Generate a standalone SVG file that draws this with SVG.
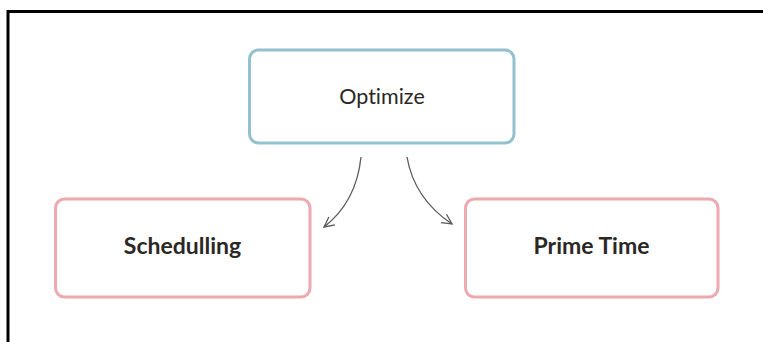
<svg xmlns="http://www.w3.org/2000/svg" width="763" height="342" viewBox="0 0 763 342">
<style>
.box{fill:#ffffff;stroke-width:3}
.blue{stroke:#94c1cd}
.pink{stroke:#ecaab0}
.lbl{font-family:Lato,"Open Sans","Liberation Sans",sans-serif;fill:#2b2725;text-anchor:middle;font-variant-ligatures:none}
.conn{fill:none;stroke:#5a5a5a;stroke-width:1.3}
</style>
<defs>
<marker id="ah" viewBox="0 0 12 12" refX="11" refY="6" markerWidth="12" markerHeight="12" markerUnits="userSpaceOnUse" orient="auto">
<path d="M1,1 L11,6 L1,11" fill="none" stroke="#5a5a5a" stroke-width="1.3"/>
</marker>
</defs>
<rect width="763" height="342" fill="#ffffff"/>
<path d="M8,342 V11.5 H763" fill="none" stroke="#000000" stroke-width="3"/>
<g id="optimize">
<rect class="box blue" x="249.5" y="50" width="264.5" height="93" rx="9"/>
<text class="lbl" x="382" y="104" font-size="21.5">Optimize</text>
</g>
<g id="schedulling">
<rect class="box pink" x="55.5" y="199" width="254.5" height="98" rx="9"/>
<text class="lbl" x="182.5" y="254" font-size="23" font-weight="bold">Schedulling</text>
</g>
<g id="prime-time">
<rect class="box pink" x="465.5" y="199" width="252.5" height="98" rx="9"/>
<text class="lbl" x="591.5" y="254" font-size="23" font-weight="bold">Prime Time</text>
</g>
<g id="connectors">
<path class="conn" d="M361,157 C358,186 346,210 324,227" marker-end="url(#ah)"/>
<path class="conn" d="M407,157 C412,186 428,208 452,224" marker-end="url(#ah)"/>
</g>
</svg>
